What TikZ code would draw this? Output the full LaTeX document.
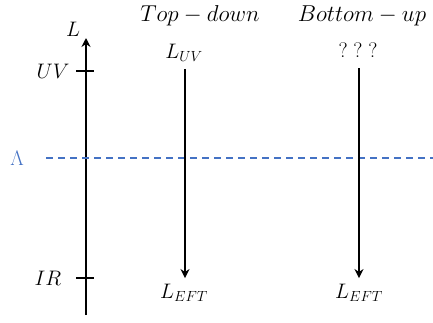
\RequirePackage{fix-cm}
\documentclass[tikz,border=0pt]{standalone}
\usepackage{amsmath}
\usepackage{tikz}
\usetikzlibrary{arrows.meta,positioning}
\definecolor{cutblue}{RGB}{68,114,196}
\tikzset{
    flow/.style={line width=2.6pt, -{Stealth[length=9pt,width=9pt]}},
    lbl/.style={font=\fontsize{21}{25}\selectfont, inner sep=1pt},
    head/.style={font=\fontsize{23}{27}\selectfont, inner sep=0pt, anchor=base}
}

\begin{document}
\begin{tikzpicture}[x=1pt, y=-1pt]
    \useasboundingbox (0,0) rectangle (433,322);

    % Scale axis
    \coordinate (axbot) at (86,315);
    \coordinate (axtop) at (86,38);
    \draw[flow] (axbot) -- (axtop);
    \node[lbl] (axL) at (73,29) {$L$};

    % Tick marks
    \draw[line width=2.6pt] (76,71) -- (94,71);
    \draw[line width=2.6pt] (76,278) -- (94,278);
    \node[lbl] (uv) at (53,71) {$UV$};
    \node[lbl] (ir) at (48,278) {$IR$};

    % Cutoff line
    \draw[cutblue, line width=1.5pt, dash pattern=on 7pt off 5pt] (46,158) -- (433,158);
    \node[lbl, text=cutblue] (cut) at (17,158) {$\Lambda$};

    % Top-down column
    \node[head] (tdtitle) at (200,21) {$Top-down$};
    \node[lbl] (luv) at (184,53) {$L_{UV}$};
    \node[lbl] (lefta) at (184,293) {$L_{EFT}$};
    \draw[flow, shorten <=6pt, shorten >=5pt] (luv.south -| 185,0) -- (lefta.north -| 185,0);

    % Bottom-up column
    \node[head] (butitle) at (362,21) {$Bottom-up$};
    \node[lbl] (qq) at (358,50) {$?\;?\;?$};
    \node[lbl] (leftb) at (359,293) {$L_{EFT}$};
    \draw[flow, shorten <=10pt, shorten >=5pt] (qq.south -| 359,0) -- (leftb.north -| 359,0);
\end{tikzpicture}
\end{document}
